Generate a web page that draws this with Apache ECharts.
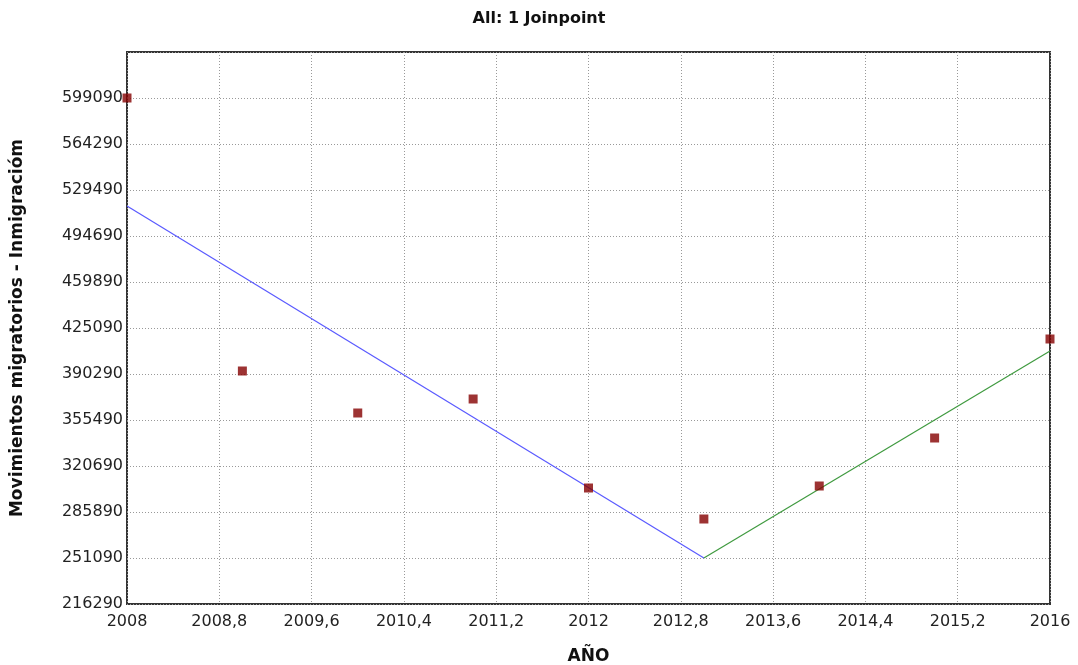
<!DOCTYPE html>
<html>
<head>
<meta charset="utf-8">
<script src="https://cdn.jsdelivr.net/npm/echarts@6/dist/echarts.min.js"></script>
<style>
  html, body { margin: 0; padding: 0; background: #fff; }
  #chart { width: 1078px; height: 665px; }
</style>
</head>
<body>
<div id="chart"></div>
<script>
// datos observados
const years = [2008, 2009, 2010, 2011, 2012, 2013, 2014, 2015, 2016]
const observed = [599090, 392560, 360790, 371380, 304050, 280590, 305560, 341870, 416770]
// tramos del modelo joinpoint
const seg1Years = [2008, 2013]
const seg1Values = [517390, 251090]
const seg2Years = [2013, 2016]
const seg2Values = [251090, 407690]

const yMin = 216290
const yMax = 633890
const yStep = 34800

const chart = echarts.init(document.getElementById('chart'))
const font = 'DejaVu Sans'

const option = {
  animation: false,
  title: {
    text: 'All: 1 Joinpoint',
    left: 'center',
    top: 6,
    textStyle: { fontFamily: font, fontSize: 16, fontWeight: 'bold', color: '#111' }
  },
  grid: {
    left: 127,
    right: 28,
    top: 52,
    bottom: 61,
    outerBoundsMode: 'none',
    containLabel: false,
    show: true,
    borderColor: '#333',
    borderWidth: 2,
    backgroundColor: '#fff'
  },
  xAxis: {
    type: 'value',
    min: 2008,
    max: 2016,
    interval: 0.8,
    name: 'AÑO',
    nameLocation: 'middle',
    nameGap: 44,
    nameTextStyle: { fontFamily: font, fontSize: 17, fontWeight: 'bold', color: '#111' },
    axisLine: { show: false },
    axisTick: { show: false },
    axisLabel: {
      fontFamily: font,
      fontSize: 16,
      color: '#222',
      margin: 10,
      formatter: v => String(Number(v.toFixed(1))).replace('.', ',')
    },
    splitLine: { show: true, lineStyle: { color: '#999', type: [1, 2], width: 1 } }
  },
  yAxis: {
    type: 'value',
    min: yMin,
    max: yMax,
    interval: yStep,
    name: 'Movimientos migratorios - Inmigracióm',
    nameLocation: 'middle',
    nameGap: 101,
    nameTextStyle: { fontFamily: font, fontSize: 17, fontWeight: 'bold', color: '#111' },
    axisLine: { show: false },
    axisTick: { show: false },
    axisLabel: {
      fontFamily: font,
      fontSize: 16,
      color: '#222',
      margin: 4,
      showMaxLabel: false,
      formatter: v => String(v)
    },
    splitLine: { show: true, lineStyle: { color: '#999', type: [1, 2], width: 1 } }
  },
  series: [
    {
      name: 'seg1',
      type: 'line',
      data: seg1Years.map((x, i) => [x, seg1Values[i]]),
      symbol: 'none',
      lineStyle: { color: '#5a5aff', width: 1.2 },
      silent: true
    },
    {
      name: 'seg2',
      type: 'line',
      data: seg2Years.map((x, i) => [x, seg2Values[i]]),
      symbol: 'none',
      lineStyle: { color: '#3f9a3f', width: 1.2 },
      silent: true
    },
    {
      name: 'obs',
      type: 'scatter',
      data: years.map((x, i) => [x, observed[i]]),
      symbol: 'rect',
      symbolSize: 9,
      itemStyle: { color: '#850000' },
      clip: false,
      z: 5
    }
  ]
}

chart.setOption(option)
</script>
</body>
</html>
